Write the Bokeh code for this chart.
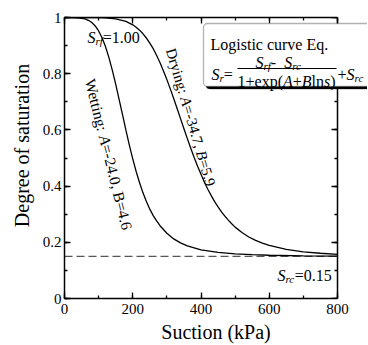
import math
from bokeh.plotting import figure
from bokeh.models import (Range1d, LinearAxis, SingleIntervalTicker, Label,
                          BoxAnnotation, CustomJSTickFormatter)
from bokeh.embed import file_html
from bokeh.resources import INLINE

# ---------------- data ----------------
wet_s = [0, 20, 40, 60, 70, 80, 90, 100, 110, 120, 130, 140, 150, 160, 170, 180, 190, 200,
         210, 220, 230, 240, 250, 260, 270, 280, 300, 320, 340, 360, 380, 400,
         450, 500, 550, 600, 700, 800]
wet_sr = [1.000, 1.000, 0.999, 0.995, 0.990, 0.982, 0.970, 0.952, 0.928, 0.897, 0.858, 0.813,
          0.763, 0.709, 0.654, 0.599, 0.546, 0.497, 0.452, 0.412, 0.376, 0.345, 0.318, 0.295,
          0.276, 0.259, 0.232, 0.212, 0.198, 0.187, 0.180, 0.173, 0.164, 0.159, 0.156, 0.154,
          0.152, 0.151]
dry_s = [0, 50, 100, 120, 150, 180, 200, 210, 220, 230, 240, 250, 260, 270, 280, 290, 300,
         310, 320, 330, 340, 350, 360, 370, 380, 390, 400, 410, 420, 430, 440, 450, 460, 470,
         480, 490, 500, 520, 540, 560, 580, 600, 650, 700, 750, 800]
dry_sr = [1.000, 1.000, 1.000, 0.999, 0.995, 0.986, 0.974, 0.965, 0.955, 0.942, 0.927, 0.909,
          0.889, 0.865, 0.839, 0.810, 0.779, 0.746, 0.712, 0.676, 0.640, 0.604, 0.569, 0.535,
          0.502, 0.471, 0.442, 0.414, 0.389, 0.366, 0.345, 0.326, 0.308, 0.293, 0.279, 0.266,
          0.254, 0.235, 0.219, 0.207, 0.197, 0.189, 0.175, 0.166, 0.161, 0.157]
SRC = 0.15
X_MIN, X_MAX = 0, 800
Y_MIN, Y_MAX = 0, 1
X_TICK_STEP = 200
Y_TICK_STEP = 0.2
X_TITLE = "Suction (kPa)"
Y_TITLE = "Degree of saturation"

# ---------------- layout ----------------
W, H = 367, 345
FL, FT, FB = 64, 17, 299         # frame edges in canvas px (frame runs to canvas right)
AXIS_W = 273                      # px between x=0 and x=800
X_EXT = X_MAX + (W - FL - AXIS_W) * (X_MAX - X_MIN) / AXIS_W
FONT = "Liberation Serif"

p = figure(width=W, height=H, x_range=Range1d(X_MIN, X_EXT), y_range=Range1d(Y_MIN, Y_MAX),
           output_backend="svg", toolbar_location=None,
           min_border_left=FL, min_border_right=0, min_border_top=FT,
           min_border_bottom=H - FB)
p.background_fill_color = "white"
p.border_fill_color = "white"
p.outline_line_color = None
p.xgrid.visible = False
p.ygrid.visible = False


def style_axis(ax, show_labels=True):
    ax.major_tick_in = 6
    ax.major_tick_out = 0
    ax.minor_tick_in = 3
    ax.minor_tick_out = 0
    ax.axis_line_width = 1.5
    ax.axis_line_color = "black"
    ax.major_tick_line_width = 1.3
    ax.minor_tick_line_width = 1.3
    ax.major_label_text_font = FONT
    ax.major_label_text_color = "black"
    ax.major_label_text_font_size = "15px"
    ax.axis_label_text_font = FONT
    ax.axis_label_text_font_style = "normal"
    ax.axis_label_text_color = "black"
    if not show_labels:
        ax.formatter = CustomJSTickFormatter(code="return '';")
        ax.major_label_standoff = 0


xa = p.xaxis[0]
ya = p.yaxis[0]
xa.ticker = SingleIntervalTicker(interval=X_TICK_STEP, num_minor_ticks=2)
ya.ticker = SingleIntervalTicker(interval=Y_TICK_STEP, num_minor_ticks=2)
ya.formatter = CustomJSTickFormatter(code="return (Math.round(tick*10)/10).toString();")
style_axis(xa)
style_axis(ya)
xa.bounds = (X_MIN, X_MAX)
xa.major_label_standoff = 5
ya.major_label_standoff = 3
xa.axis_label = X_TITLE
xa.axis_label_text_font_size = "20px"
xa.axis_label_standoff = 4
ya.axis_label = "\u00a0" * 5 + Y_TITLE
ya.axis_label_text_font_size = "20px"
ya.axis_label_standoff = 7

top = LinearAxis(ticker=SingleIntervalTicker(interval=X_TICK_STEP, num_minor_ticks=2),
                 bounds=(X_MIN, X_MAX))
right = LinearAxis(ticker=SingleIntervalTicker(interval=Y_TICK_STEP, num_minor_ticks=2),
                   fixed_location=X_MAX)
style_axis(top, False)
style_axis(right, False)
p.add_layout(top, "above")
p.add_layout(right, "right")

# ---------------- curves ----------------
p.line([X_MIN, X_MAX], [SRC, SRC], line_color="#555555", line_width=1.2, line_dash="8 4")
p.line(wet_s, wet_sr, line_color="black", line_width=1.3)
p.line(dry_s, dry_sr, line_color="black", line_width=1.3)

# ---------------- text helpers ----------------
REG = {'W': 944, 'e': 444, 't': 278, 'i': 278, 'n': 500, 'g': 500, ':': 278, ' ': 250,
       '=': 564, '-': 333, '.': 250, ',': 250, 'B': 667, 'A': 722, 'D': 722, 'r': 333,
       'y': 500, 'L': 611, 'o': 500, 's': 389, 'c': 444, 'u': 500, 'v': 500, 'E': 611,
       'q': 500, '+': 564, 'x': 500, 'p': 500, '(': 333, ')': 333, 'l': 278, 'S': 556,
       'f': 333}
ITA = {'S': 500, 'r': 389, 'f': 278, 'c': 444, 'A': 611, 'B': 611, 's': 389}


def tw(t, it, size):
    tab = ITA if it else REG
    return sum(tab.get(c, REG.get(c, 500)) for c in t) * size / 1000.0


def runs(x0, y0, parts, ang=0.0):
    th = math.radians(ang)
    ux, uy = math.cos(th), math.sin(th)
    adv = 0.0
    for text, it, size, sub in parts:
        x = x0 + adv * ux - sub * math.sin(th)
        y = y0 + adv * uy + sub * math.cos(th)
        p.add_layout(Label(x=x, y=y, x_units="canvas", y_units="canvas",
                           text=text, angle=-th,
                           text_font=FONT, text_font_style="italic" if it else "normal",
                           text_font_size=f"{size}px", text_baseline="alphabetic",
                           text_align="left", text_color="black"))
        adv += tw(text, it, size)


def cbox(l, r, t, b, **kw):
    return BoxAnnotation(left=l, right=r, top=t, bottom=b,
                         left_units="canvas", right_units="canvas",
                         top_units="canvas", bottom_units="canvas", **kw)


# ---------------- equation box ----------------
p.add_layout(cbox(205.5, 376, 25.5, 88.5, fill_color="black", fill_alpha=1,
                  line_color="black", border_radius=4))
p.add_layout(cbox(203, 373, 23, 86, fill_color="white", fill_alpha=1, line_color="black",
                  line_width=1.3, border_radius=4))
p.add_layout(cbox(237, 336, 67.4, 68.5, fill_color="black", fill_alpha=1, line_color=None))

runs(210, 43.5, [("Logistic curve Eq.", False, 16, 0)])
runs(211, 74, [("S", True, 16, 0), ("r", True, 11, 3), ("=", False, 16, 0)])
runs(255, 62, [("S", True, 16, 0), ("rf", True, 11, 3), (" - ", False, 16, 0),
               ("S", True, 16, 0), ("rc", True, 11, 3)])
runs(237, 81, [("1+exp(", False, 16, 0), ("A", True, 16, 0), ("+", False, 16, 0),
               ("B", True, 16, 0), ("ln", False, 16, 0), ("s", True, 16, 0),
               (")", False, 16, 0)])
runs(337, 74, [("+", False, 16, 0), ("S", True, 16, 0), ("rc", True, 11, 3)])

# ---------------- annotations ----------------
runs(87, 37, [("S", True, 16, 0), ("rf", True, 11, 3), ("=1.00", False, 16, 0)])
runs(277, 275, [("S", True, 16, 0), ("rc", True, 11, 3), ("=0.15", False, 16, 0)])
runs(170, 48, [("Drying: ", False, 15, 0), ("A", True, 15, 0), ("=-34.7, ", False, 15, 0),
               ("B", True, 15, 0), ("=5.9", False, 15, 0)], ang=73.6)
runs(89.5, 78.6, [("Wetting: ", False, 15.5, 0), ("A", True, 15.5, 0),
                  ("=-24.0, B=4.6", False, 15.5, 0)], ang=76)

open("out.html", "w").write(file_html(p, INLINE))
